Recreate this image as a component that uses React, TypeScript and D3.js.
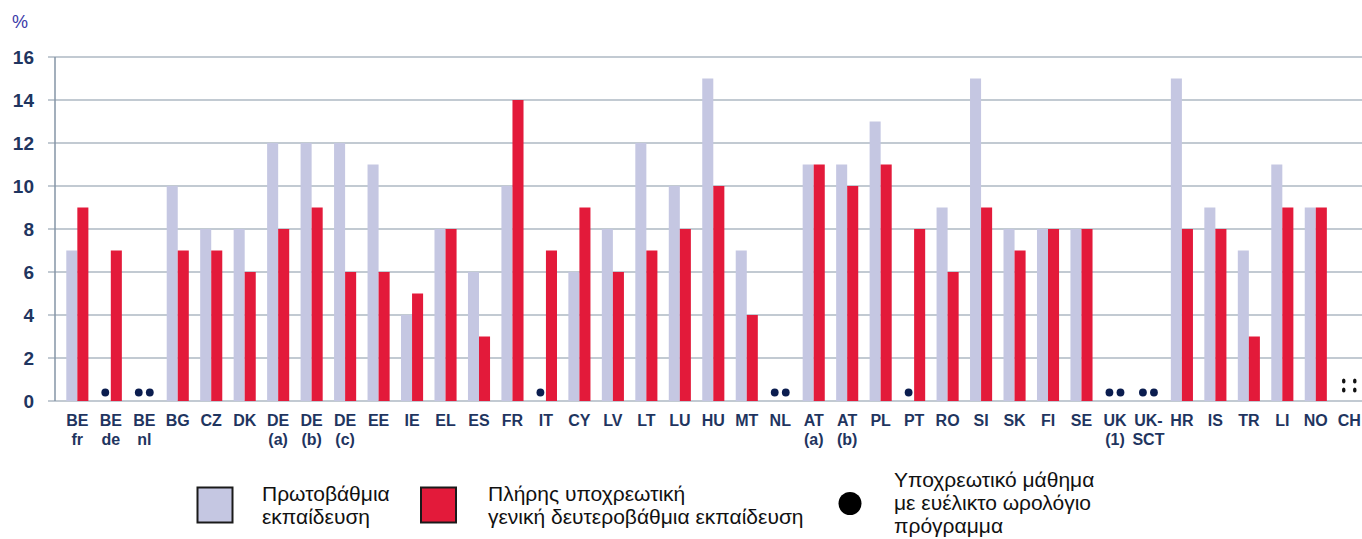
import React from "react";
import * as d3 from "d3";

// category labels (two lines)
const countries = ["BE","BE","BE","BG","CZ","DK","DE","DE","DE","EE","IE","EL","ES","FR","IT","CY","LV","LT","LU","HU","MT","NL","AT","AT","PL","PT","RO","SI","SK","FI","SE","UK","UK-","HR","IS","TR","LI","NO","CH"];
const subLabels = ["fr","de","nl","","","","(a)","(b)","(c)","","","","","","","","","","","","","","(a)","(b)","","","","","","","","(1)","SCT","","","","","",""];

// primary education
const primary = [7,null,null,10,8,8,12,12,12,11,4,8,6,10,null,6,8,12,10,15,7,null,11,11,13,null,9,15,8,8,8,null,null,15,9,7,11,9,null];
// full compulsory general secondary
const secondary = [9,7,null,7,7,6,8,9,6,6,5,8,3,14,7,9,6,7,8,10,4,null,11,10,11,8,6,9,7,8,8,null,null,8,8,3,9,9,null];

// flexible timetable markers
const flexPrimary = ["1","2","14","21","25","31","32"];
const flexSecondary = ["2","21","31","32"];
// not available
const notAvailable = ["38"];

const yTicks = [0, 2, 4, 6, 8, 10, 12, 14, 16];

const W = 1362;
const H = 539;
const LIGHT = "#c5c7e2";
const RED = "#e31a3a";
const NAVY = "#1f3560";
const GRID = "#8595a6";

export default function App() {
  const ids = countries.map((_, i) => String(i));
  const x = d3.scaleBand<string>().domain(ids).range([60.6, 1366]).paddingInner(0.34).paddingOuter(0.17);
  const inner = d3.scaleBand<string>().domain(["p", "s"]).range([0, x.bandwidth()]);
  const y = d3.scaleLinear().domain([0, 16]).range([401, 57]);
  const axisX = 55;

  return (
    <svg width={W} height={H} style={{ position: "absolute", left: 0, top: 0, background: "#fff" }}
      fontFamily="'Liberation Sans', Arial, sans-serif">
      <text x={12} y={28} fontSize={18} fill="#3a3aa8">%</text>

      {/* grid + ticks */}
      {yTicks.map((t) => (
        <g key={t}>
          <line x1={axisX - 7} x2={W} y1={y(t)} y2={y(t)} stroke={GRID} strokeWidth={1.2} />
          <text x={34} y={y(t) + 7} textAnchor="end" fontSize={19} fontWeight="bold" fill={NAVY}>{t}</text>
        </g>
      ))}
      <line x1={axisX} x2={axisX} y1={y(16)} y2={y(0)} stroke={GRID} strokeWidth={1.5} />

      {/* bars */}
      {ids.map((id, i) => (
        <g key={id} transform={`translate(${x(id)},0)`}>
          {primary[i] != null && (
            <rect x={inner("p")} y={y(primary[i] as number)} width={inner.bandwidth()}
              height={y(0) - y(primary[i] as number)} fill={LIGHT} />
          )}
          {secondary[i] != null && (
            <rect x={inner("s")} y={y(secondary[i] as number)} width={inner.bandwidth()}
              height={y(0) - y(secondary[i] as number)} fill={RED} />
          )}
          {flexPrimary.includes(id) && (
            <circle cx={(inner("p") as number) + inner.bandwidth() / 2} cy={392.5} r={3.9} fill="#0b1d4f" />
          )}
          {flexSecondary.includes(id) && (
            <circle cx={(inner("s") as number) + inner.bandwidth() / 2} cy={392.5} r={3.9} fill="#0b1d4f" />
          )}
          {notAvailable.includes(id) &&
            ["p", "s"].map((k) => (
              <g key={k}>
                <ellipse cx={(inner(k) as number) + inner.bandwidth() / 2} cy={381} rx={1.8} ry={2.6} fill="#111" />
                <ellipse cx={(inner(k) as number) + inner.bandwidth() / 2} cy={390} rx={1.8} ry={2.6} fill="#111" />
              </g>
            ))}
          <text x={x.bandwidth() / 2} y={426} textAnchor="middle" fontSize={16} fontWeight="bold" fill={NAVY}>
            {countries[i]}
          </text>
          {subLabels[i] && (
            <text x={x.bandwidth() / 2} y={445} textAnchor="middle" fontSize={16} fontWeight="bold" fill={NAVY}>
              {subLabels[i]}
            </text>
          )}
        </g>
      ))}

      {/* legend */}
      <g fontSize={21} fill="#111">
        <rect x={197.5} y={487.5} width={35} height={35} fill={LIGHT} stroke="#1a1a1a" strokeWidth={2} />
        <text x={262} y={501}>Πρωτοβάθμια</text>
        <text x={262} y={524}>εκπαίδευση</text>
        <rect x={421} y={487.5} width={35} height={35} fill={RED} stroke="#1a1a1a" strokeWidth={2} />
        <text x={488} y={501}>Πλήρης υποχρεωτική</text>
        <text x={488} y={524}>γενική δευτεροβάθμια εκπαίδευση</text>
        <circle cx={850} cy={503.5} r={11.5} fill="#000" />
        <text x={894} y={487}>Υποχρεωτικό μάθημα</text>
        <text x={894} y={510}>με ευέλικτο ωρολόγιο</text>
        <text x={894} y={533}>πρόγραμμα</text>
      </g>
    </svg>
  );
}
